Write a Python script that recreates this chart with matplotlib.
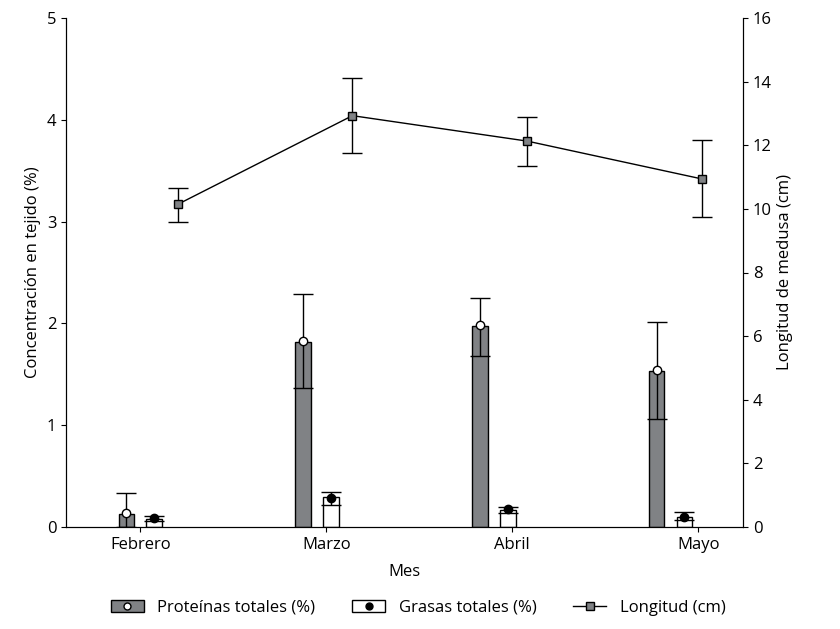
import numpy as np
import matplotlib; matplotlib.use("Agg")
import matplotlib.pyplot as plt
from matplotlib.lines import Line2D
from matplotlib.patches import Patch

plt.rcParams["font.family"] = ["Open Sans", "DejaVu Sans"]
plt.rcParams["font.size"] = 12

meses = ["Febrero", "Marzo", "Abril", "Mayo"]
prot = [0.13, 1.82, 1.97, 1.53]
prot_pt = [0.14, 1.83, 1.98, 1.54]
prot_hi = [0.33, 2.29, 2.25, 2.01]
prot_lo = [0.0, 1.37, 1.68, 1.06]
gras = [0.08, 0.29, 0.17, 0.10]
gras_pt = [0.09, 0.28, 0.18, 0.10]
gras_hi = [0.11, 0.34, 0.20, 0.15]
gras_lo = [0.06, 0.22, 0.14, 0.07]
lon = [10.14, 12.93, 12.13, 10.94]
lon_hi = [10.66, 14.1, 12.9, 12.16]
lon_lo = [9.6, 11.75, 11.36, 9.76]

i = np.arange(4)
xp = -0.075 + 0.95 * i
xg = 0.075 + 0.95 * i
xl = 0.2 + 0.94 * i
w = 0.085

fig = plt.figure(figsize=(8.4, 6.29), dpi=100)
ax = fig.add_axes([66/840, 1-527/629, (743-66)/840, (527-18)/629])
ax2 = ax.twinx()

ax.bar(xp, prot, w, color="#808285", edgecolor="black", lw=1, zorder=2)
ax.bar(xg, gras, w, color="white", edgecolor="black", lw=1, zorder=2)
pt, ph, pl = np.array(prot_pt), np.array(prot_hi), np.array(prot_lo)
ax.errorbar(xp, pt, yerr=[pt - pl, ph - pt], fmt="o", ms=6, mfc="white", mec="black",
            ecolor="black", elinewidth=1, capsize=7, zorder=3)
gt, gh, gl = np.array(gras_pt), np.array(gras_hi), np.array(gras_lo)
ax.errorbar(xg, gt, yerr=[gt - gl, gh - gt], fmt="o", ms=6, mfc="black", mec="black",
            ecolor="black", elinewidth=1, capsize=7, zorder=3)
lv, lh, ll = np.array(lon), np.array(lon_hi), np.array(lon_lo)
ax2.errorbar(xl, lv, yerr=[lv - ll, lh - lv], fmt="-s", color="black", ms=6, mfc="#808285",
             mec="black", lw=1, elinewidth=1, capsize=7)

ax.set_xlim(-0.40, 3.24)
ax.set_ylim(0, 5)
ax2.set_ylim(0, 16)
ax.set_xticks(i)
ax.set_xticklabels(meses)
ax.set_yticks(range(6))
ax2.set_yticks(range(0, 17, 2))
ax.set_xlabel("Mes", labelpad=8)
ax.set_ylabel("Concentración en tejido (%)")
ax2.set_ylabel("Longitud de medusa (cm)")
for a in (ax, ax2):
    a.spines["top"].set_visible(False)

h = [Patch(fc="#808285", ec="black"), Patch(fc="white", ec="black"),
     Line2D([0], [0], color="black", marker="s", mfc="#808285", ms=6, lw=1)]
ax.legend([(h[0], Line2D([0], [0], marker="o", ls="", mfc="white", mec="black", ms=5)),
           (h[1], Line2D([0], [0], marker="o", ls="", mfc="black", mec="black", ms=5)), h[2]],
          ["Proteínas totales (%)", "Grasas totales (%)", "Longitud (cm)"],
          loc="center", bbox_to_anchor=(0.52, -0.159), ncol=3, frameon=False,
          columnspacing=2.2, handlelength=2)
fig.savefig("out.png", dpi=100)
